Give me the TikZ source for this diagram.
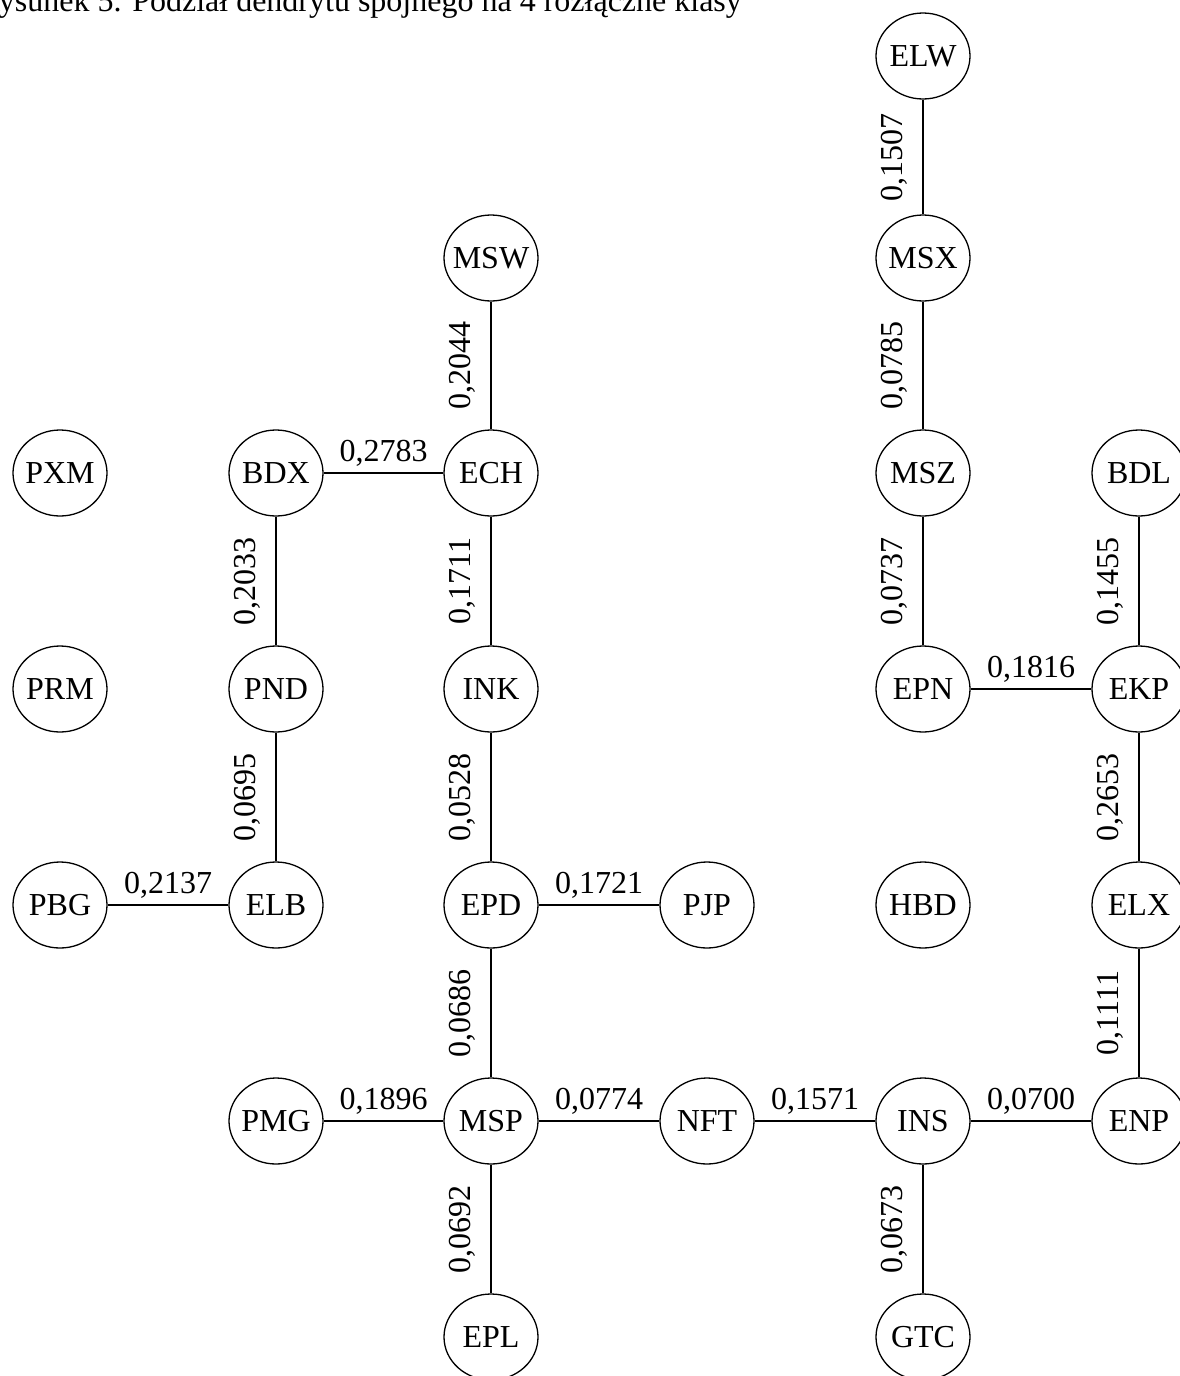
\documentclass[tikz,border=0pt]{standalone}
\usepackage{fontspec}
\setmainfont{Liberation Serif}
\usetikzlibrary{shapes.geometric,calc}
\begin{document}
\begin{tikzpicture}[x=1pt,y=1pt,
  every node/.style={font=\fontsize{32pt}{38pt}\selectfont},
  vnode/.style={ellipse, draw, line width=1.3pt, minimum width=94pt, minimum height=86pt, inner sep=0pt, label={center:#1}},
  edge/.style={line width=1.3pt},
  hlab/.style={anchor=base, inner sep=0pt},
  vlab/.style={anchor=base, rotate=90, inner sep=0pt}]
\useasboundingbox (0,0) rectangle (1179,-1376);
% title
\node[anchor=base west, inner sep=0pt] (title) at (-21.3,-11) {Rysunek 5. Podział dendrytu spójnego na 4 rozłączne klasy};
% nodes
\node[vnode=PXM] (pxm) at (60,-473) {};
\node[vnode=PRM] (prm) at (60,-689) {};
\node[vnode=PBG] (pbg) at (60,-905) {};
\node[vnode=BDX] (bdx) at (276,-473) {};
\node[vnode=PND] (pnd) at (276,-689) {};
\node[vnode=ELB] (elb) at (276,-905) {};
\node[vnode=PMG] (pmg) at (276,-1121) {};
\node[vnode=MSW] (msw) at (491,-258) {};
\node[vnode=ECH] (ech) at (491,-473) {};
\node[vnode=INK] (ink) at (491,-689) {};
\node[vnode=EPD] (epd) at (491,-905) {};
\node[vnode=MSP] (msp) at (491,-1121) {};
\node[vnode=EPL] (epl) at (491,-1337) {};
\node[vnode=PJP] (pjp) at (707,-905) {};
\node[vnode=NFT] (nft) at (707,-1121) {};
\node[vnode=ELW] (elw) at (923,-56) {};
\node[vnode=MSX] (msx) at (923,-258) {};
\node[vnode=MSZ] (msz) at (923,-473) {};
\node[vnode=EPN] (epn) at (923,-689) {};
\node[vnode=HBD] (hbd) at (923,-905) {};
\node[vnode=INS] (ins) at (923,-1121) {};
\node[vnode=GTC] (gtc) at (923,-1337) {};
\node[vnode=BDL] (bdl) at (1139,-473) {};
\node[vnode=EKP] (ekp) at (1139,-689) {};
\node[vnode=ELX] (elx) at (1139,-905) {};
\node[vnode=ENP] (enp) at (1139,-1121) {};
% edges
\draw[edge] (elw) -- (msx);
\draw[edge] (msx) -- (msz);
\draw[edge] (msz) -- (epn);
\draw[edge] (epn) -- (ekp);
\draw[edge] (bdl) -- (ekp);
\draw[edge] (ekp) -- (elx);
\draw[edge] (elx) -- (enp);
\draw[edge] (ins) -- (enp);
\draw[edge] (nft) -- (ins);
\draw[edge] (ins) -- (gtc);
\draw[edge] (msp) -- (nft);
\draw[edge] (pmg) -- (msp);
\draw[edge] (msp) -- (epl);
\draw[edge] (epd) -- (msp);
\draw[edge] (epd) -- (pjp);
\draw[edge] (ink) -- (epd);
\draw[edge] (ech) -- (ink);
\draw[edge] (msw) -- (ech);
\draw[edge] (bdx) -- (ech);
\draw[edge] (bdx) -- (pnd);
\draw[edge] (pnd) -- (elb);
\draw[edge] (pbg) -- (elb);
% vertical labels
\node[vlab] (l1) at ($(elw)!0.5!(msx)+(-21,0)$) {0,1507};
\node[vlab] (l2) at ($(msx)!0.5!(msz)+(-21,0)$) {0,0785};
\node[vlab] (l3) at ($(msz)!0.5!(epn)+(-21,0)$) {0,0737};
\node[vlab] (l4) at ($(bdl)!0.5!(ekp)+(-21,0)$) {0,1455};
\node[vlab] (l5) at ($(ekp)!0.5!(elx)+(-21,0)$) {0,2653};
\node[vlab] (l6) at ($(elx)!0.5!(enp)+(-21,0)$) {0,1111};
\node[vlab] (l7) at ($(ins)!0.5!(gtc)+(-21,0)$) {0,0673};
\node[vlab] (l8) at ($(msp)!0.5!(epl)+(-21,0)$) {0,0692};
\node[vlab] (l9) at ($(epd)!0.5!(msp)+(-21,0)$) {0,0686};
\node[vlab] (l10) at ($(ink)!0.5!(epd)+(-21,0)$) {0,0528};
\node[vlab] (l11) at ($(ech)!0.5!(ink)+(-21,0)$) {0,1711};
\node[vlab] (l12) at ($(msw)!0.5!(ech)+(-21,0)$) {0,2044};
\node[vlab] (l13) at ($(bdx)!0.5!(pnd)+(-21,0)$) {0,2033};
\node[vlab] (l14) at ($(pnd)!0.5!(elb)+(-21,0)$) {0,0695};
% horizontal labels
\node[hlab] (h1) at ($(epn)!0.5!(ekp)+(0,12)$) {0,1816};
\node[hlab] (h2) at ($(ins)!0.5!(enp)+(0,12)$) {0,0700};
\node[hlab] (h3) at ($(nft)!0.5!(ins)+(0,12)$) {0,1571};
\node[hlab] (h4) at ($(msp)!0.5!(nft)+(0,12)$) {0,0774};
\node[hlab] (h5) at ($(pmg)!0.5!(msp)+(0,12)$) {0,1896};
\node[hlab] (h6) at ($(epd)!0.5!(pjp)+(0,12)$) {0,1721};
\node[hlab] (h7) at ($(bdx)!0.5!(ech)+(0,12)$) {0,2783};
\node[hlab] (h8) at ($(pbg)!0.5!(elb)+(0,12)$) {0,2137};
\end{tikzpicture}
\end{document}
